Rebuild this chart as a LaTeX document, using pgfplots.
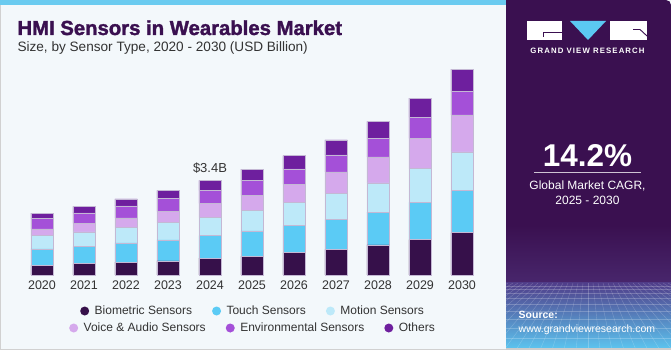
\documentclass[border=0pt]{standalone}
\usepackage{pgfplots}
\pgfplotsset{compat=1.18}
\usepackage{pgfplotstable}
\usepackage{fontspec}
\setmainfont{Liberation Sans}
\newfontfamily\titlefont[FakeBold=1.6]{Liberation Sans Bold}
\definecolor{bg}{HTML}{F3F8FB}
\definecolor{stripe}{HTML}{6ACBF0}
\definecolor{panel}{HTML}{3A1050}
\definecolor{titlec}{HTML}{3A1050}
\definecolor{tickgray}{HTML}{333333}
\definecolor{bio}{HTML}{36104A}
\definecolor{touch}{HTML}{5BCBF5}
\definecolor{motion}{HTML}{BDE9F9}
\definecolor{voice}{HTML}{D5A9EC}
\definecolor{env}{HTML}{A450D8}
\definecolor{others}{HTML}{6E1F9E}
\definecolor{barline}{HTML}{C4B8D4}
\definecolor{vblue}{HTML}{5BC8F2}

\pgfplotstableread{
x bio touch motion voice env others
0 0.35 0.59 0.47 0.25 0.36 0.20
1 0.41 0.61 0.53 0.30 0.38 0.23
2 0.46 0.69 0.55 0.35 0.43 0.25
3 0.51 0.75 0.62 0.40 0.46 0.30
4 0.61 0.80 0.67 0.49 0.48 0.35
5 0.68 0.90 0.75 0.54 0.54 0.39
6 0.80 0.97 0.84 0.65 0.55 0.48
7 0.92 1.08 0.93 0.77 0.61 0.54
8 1.08 1.18 1.05 0.93 0.67 0.61
9 1.27 1.34 1.21 1.09 0.75 0.69
10 1.52 1.51 1.39 1.33 0.84 0.80
}\datatable

\pgfplotsset{dotleg/.style={legend image code/.code={\fill[##1,draw=none] (0pt,0pt) circle (4.5pt);}}}

\begin{document}
\begin{tikzpicture}[x=1pt,y=1pt]
\useasboundingbox (0,0) rectangle (671,350);
% background
\fill[bg] (0,0) rectangle (671,350);
\fill[stripe] (0,345) rectangle (506,350);
\draw[color=black!18, line width=0.8pt] (0.4,345) -- (0.4,0.4) -- (506,0.4);
% right panel
\fill[panel, rounded corners=5pt] (506,2) rectangle (671,350);
\fill[panel] (506,2) rectangle (520,350);
\shade[top color=panel, bottom color={rgb,255:red,72;green,38;blue,108}] (506,67) rectangle (671,125);
\shade[top color={rgb,255:red,80;green,62;blue,138}, middle color={rgb,255:red,84;green,112;blue,180}, bottom color={rgb,255:red,92;green,195;blue,238}] (506,2) rectangle (671,67);
\begin{scope}
\clip (506,2) rectangle (671,67);
\foreach \yy in {64,61,57,52,46,39,31,22,12}
  \draw[white, opacity=0.22, line width=0.4pt] (506,\yy) -- (671,\yy);
\foreach \k in {-22,...,22}
  \draw[white, opacity=0.22, line width=0.4pt] (588+\k*5,67) -- (588+\k*12,0);
\end{scope}
\fill[black!20] (506,0) rectangle (671,2);
% logo
\fill[white] (527,310) rectangle (562,329);
\draw[panel, line width=0.9pt] (543,313) -- (543,317.3) -- (562,317.3);
\fill[vblue] (570,329) -- (606,329) -- (588,310) -- cycle;
\fill[white] (610,310) rectangle (647,329);
\draw[panel, line width=0.9pt] (633,320.5) -- (640,320.5) -- (647,314);
\node[anchor=base, text=white, inner sep=0pt, font=\bfseries\fontsize{7.8}{9}\selectfont\addfontfeatures{LetterSpace=14}] at (587.5,296.5) {GRAND VIEW RESEARCH};
% CAGR
\node[anchor=base, text=white, inner sep=0pt, font=\bfseries\fontsize{31.5}{34}\selectfont] at (587.5,183) {14.2\%};
\draw[white!75!panel, line width=1pt] (534,177) -- (641,177);
\node[anchor=base, text=white, inner sep=0pt, font=\fontsize{12}{14}\selectfont] at (587.5,160) {Global Market CAGR,};
\node[anchor=base, text=white, inner sep=0pt, font=\fontsize{12}{14}\selectfont] at (587.5,145) {2025 - 2030};
% source
\node[anchor=base west, text=white, inner sep=0pt, font=\bfseries\fontsize{10.5}{12}\selectfont] at (518.5,31) {Source:};
\node[anchor=base west, text=white, inner sep=0pt, font=\fontsize{10.5}{12}\selectfont] at (518.5,17.5) {www.grandviewresearch.com};
% titles
\node[anchor=base west, text=titlec, inner sep=0pt, font=\titlefont\fontsize{20.3}{24}\selectfont] at (17.3,315) {HMI Sensors in Wearables Market};
\node[anchor=base west, text=tickgray, inner sep=0pt, font=\fontsize{13.6}{16}\selectfont] at (17.3,298.3) {Size, by Sensor Type, 2020 - 2030 (USD Billion)};

\begin{axis}[
  at={(21pt,75pt)}, anchor=south west,
  scale only axis, width=462pt, height=222.8pt,
  xmin=-0.5, xmax=10.5, ymin=0, ymax=8,
  ybar stacked, bar width=22.5pt,
  axis line style={draw=none}, major tick length=0pt,
  ytick=\empty, xtick={0,...,10},
  xticklabels={2020,2021,2022,2023,2024,2025,2026,2027,2028,2029,2030},
  xticklabel style={font=\fontsize{12.5}{14}\selectfont, text=tickgray, inner sep=0pt, yshift=-6pt},
  clip=false,
  legend style={at={(0.5,-0.1616)}, anchor=center, draw=none, fill=none,
    legend columns=3, font=\fontsize{12}{14}\selectfont, text=tickgray,
    /tikz/every odd column/.append style={column sep=5.5pt},
    /tikz/every even column/.append style={column sep=20pt},
    nodes={inner xsep=0pt}},
]
\addplot[fill=bio, draw=barline, line width=0.5pt, dotleg] table[x=x, y=bio] {\datatable};
\addplot[fill=touch, draw=barline, line width=0.5pt, dotleg] table[x=x, y=touch] {\datatable};
\addplot[fill=motion, draw=barline, line width=0.5pt, dotleg] table[x=x, y=motion] {\datatable};
\addplot[fill=voice, draw=barline, line width=0.5pt, dotleg] table[x=x, y=voice] {\datatable};
\addplot[fill=env, draw=barline, line width=0.5pt, dotleg] table[x=x, y=env] {\datatable};
\addplot[fill=others, draw=barline, line width=0.5pt, dotleg] table[x=x, y=others] {\datatable};
\legend{Biometric Sensors, Touch Sensors, Motion Sensors}
\node[anchor=base, font=\fontsize{13}{15}\selectfont, text=tickgray, inner sep=0pt, yshift=8.3pt] at (axis cs:4,3.4) {\$3.4B};
\end{axis}

\begin{axis}[
  at={(21pt,75pt)}, anchor=south west,
  scale only axis, width=462pt, height=222.8pt,
  xmin=0, xmax=1, ymin=0, ymax=1, hide axis,
  legend style={at={(0.5,-0.2379)}, anchor=center, draw=none, fill=none,
    legend columns=3, font=\fontsize{12}{14}\selectfont, text=tickgray,
    /tikz/every odd column/.append style={column sep=5.5pt},
    /tikz/every even column/.append style={column sep=20pt},
    nodes={inner xsep=0pt}},
]
\addlegendimage{fill=voice, dotleg}
\addlegendentry{Voice \& Audio Sensors}
\addlegendimage{fill=env, dotleg}
\addlegendentry{Environmental Sensors}
\addlegendimage{fill=others, dotleg}
\addlegendentry{Others}
\end{axis}
\end{tikzpicture}
\end{document}
